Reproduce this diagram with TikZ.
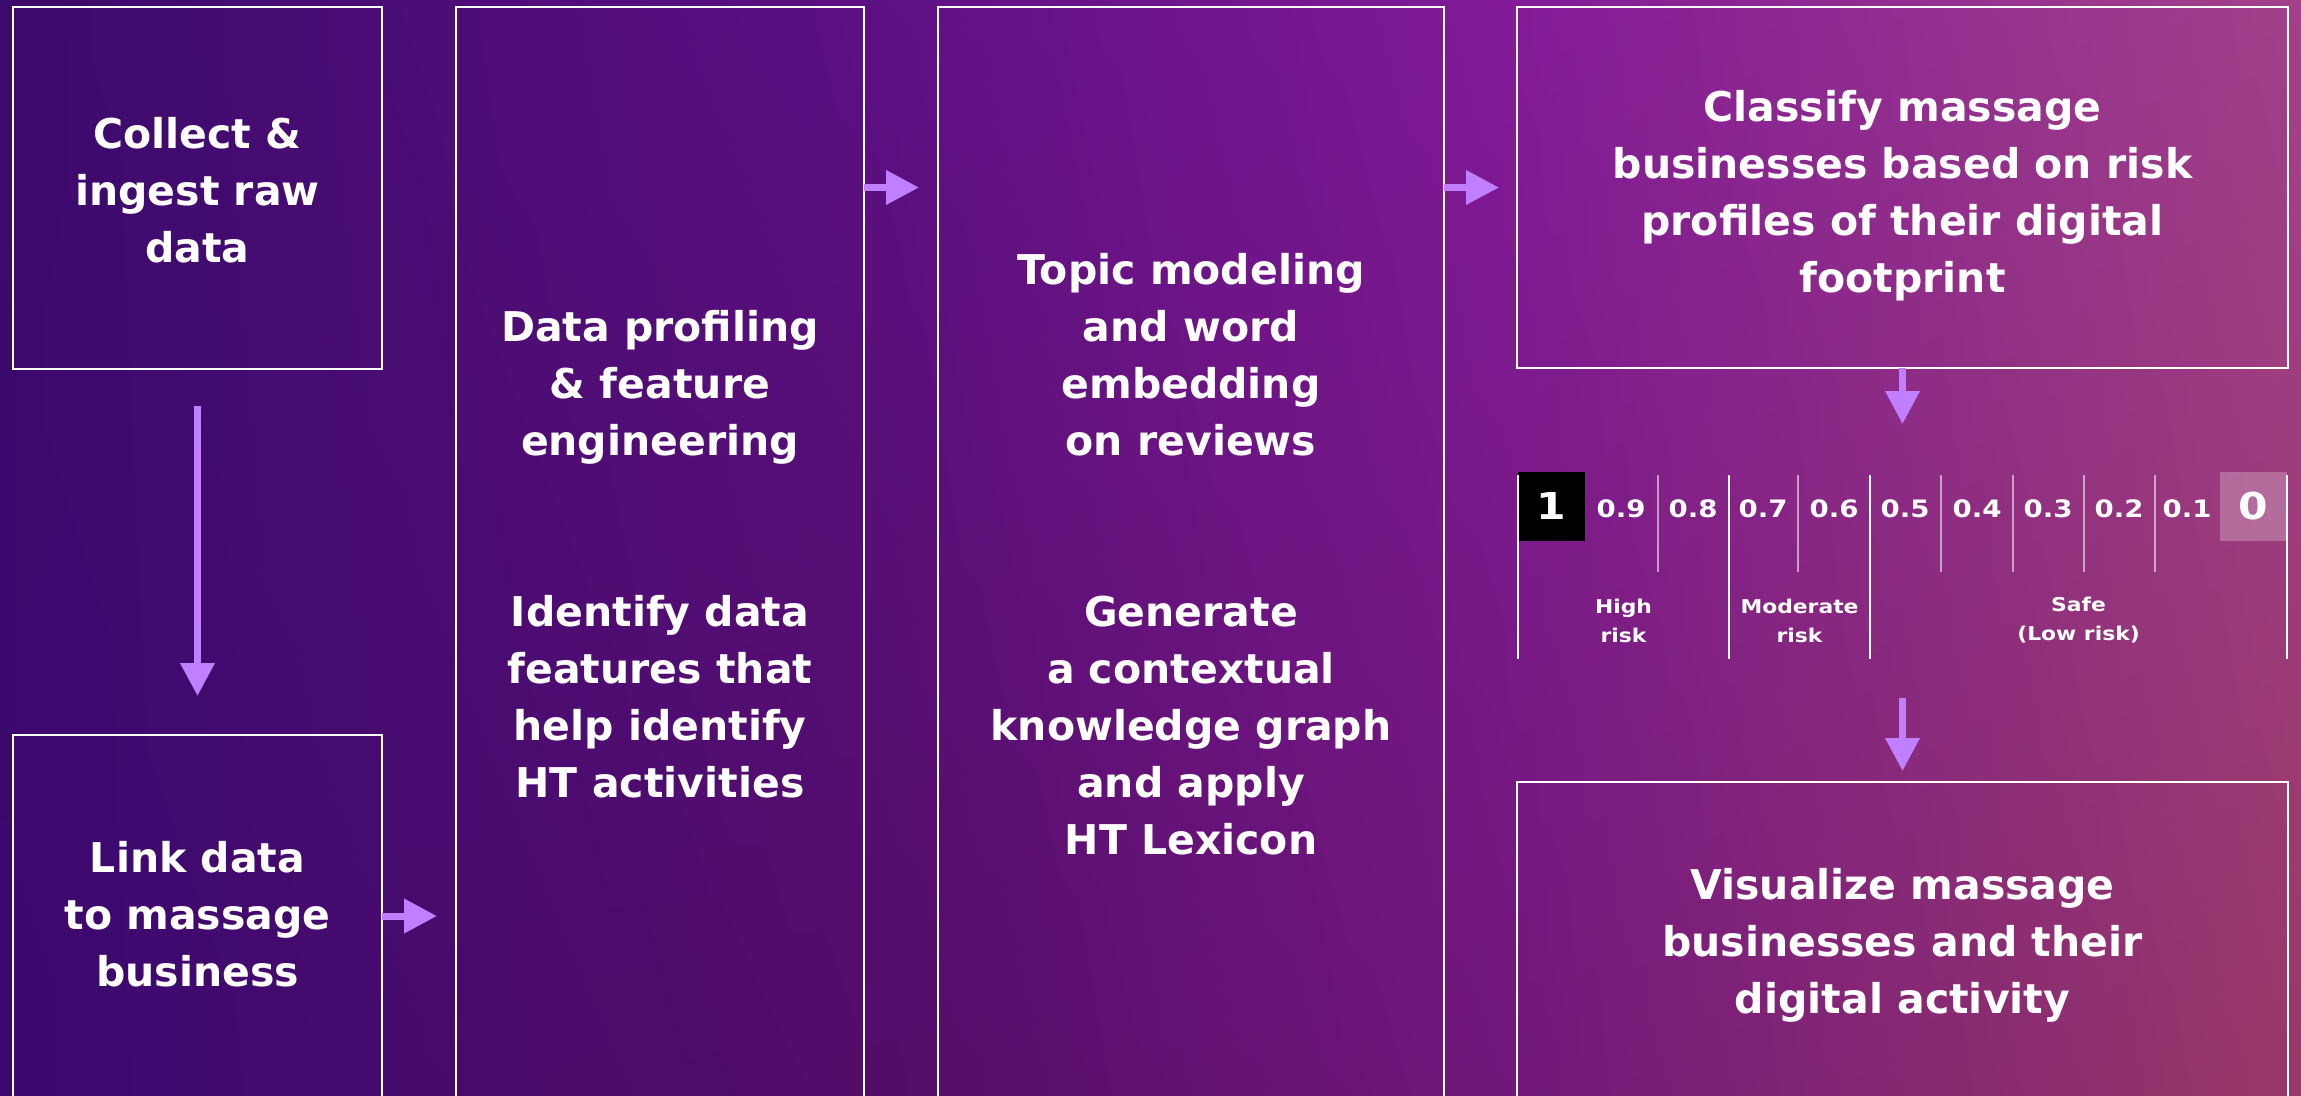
\documentclass[tikz,border=0pt]{standalone}
\usepackage{fontspec}
\setmainfont{DejaVu Sans}
\newfontfamily\scalefont{DejaVu Sans}[FakeStretch=1.15]
\usetikzlibrary{arrows.meta,shadings}
\definecolor{arrowc}{RGB}{191,127,255}
\definecolor{bgAt}{HTML}{3B0A6A}
\definecolor{bgAb}{HTML}{3B0870}
\definecolor{bgBt}{HTML}{5E1084}
\definecolor{bgBb}{HTML}{530D68}
\definecolor{bgCt}{HTML}{821A98}
\definecolor{bgCb}{HTML}{71177A}
\definecolor{bgDt}{HTML}{A2418A}
\definecolor{bgDb}{HTML}{983868}
\begin{document}
\begin{tikzpicture}[x=1pt,y=-1pt,
  box/.style={draw=white, line width=1.6pt, inner sep=0pt, outer sep=0pt},
  maintext/.style={text=white, align=center, inner sep=0pt,
    font=\bfseries\fontsize{41pt}{57pt}\selectfont},
  arr/.style={draw=arrowc, line width=7pt, -{Triangle[length=33pt,width=33pt]}},
  num/.style={text=white, anchor=base, inner sep=0pt,
    font=\scalefont\bfseries\fontsize{24pt}{24pt}\selectfont},
  bignum/.style={text=white, inner sep=0pt, minimum width=67pt, minimum height=69pt,
    font=\scalefont\bfseries\fontsize{37pt}{37pt}\selectfont},
  risklabel/.style={text=white, align=center, inner sep=0pt,
    font=\scalefont\bfseries\fontsize{19pt}{29pt}\selectfont},
  tallline/.style={draw=white, line width=1.5pt},
  shortline/.style={draw=white, draw opacity=0.55, line width=1.2pt}]
\useasboundingbox (0,0) rectangle (2301,1095);
\clip (0,0) rectangle (2301,1095);
% background
\shade[upper left=bgAt, lower left=bgAb, upper right=bgBt, lower right=bgBb] (0,0) rectangle (901,1095);
\shade[upper left=bgBt, lower left=bgBb, upper right=bgCt, lower right=bgCb] (900,0) rectangle (1501,1095);
\shade[upper left=bgCt, lower left=bgCb, upper right=bgDt, lower right=bgDb] (1500,0) rectangle (2301,1095);

% boxes
\node[box, minimum width=369pt, minimum height=362pt] (boxA) at (197.5,188) {};
\node[box, minimum width=369pt, minimum height=362pt] (boxB) at (197.5,916) {};
\node[box, minimum width=408pt, minimum height=1093pt] (boxC) at (660,553.5) {};
\node[box, minimum width=506pt, minimum height=1093pt] (boxD) at (1191,553.5) {};
\node[box, minimum width=771pt, minimum height=361pt] (boxE) at (1902.5,187.5) {};
\node[box, minimum width=771pt, minimum height=318pt] (boxF) at (1902.5,941) {};

% texts
\node[maintext] (tA) at (197.5,190) {Collect \&\\ingest raw\\data};
\node[maintext] (tB) at (197.5,914.5) {Link data\\to massage\\business};
\node[maintext] (tC) at (660,554) {Data profiling\\\& feature\\engineering\\[114pt]Identify data\\features that\\help identify\\HT activities};
\node[maintext] (tD) at (1191,554.5) {Topic modeling\\and word\\embedding\\on reviews\\[114pt]Generate\\a contextual\\knowledge graph\\and apply\\HT Lexicon};
\node[maintext] (tE) at (1902.5,195.4) {Classify massage\\businesses based on risk\\profiles of their digital\\footprint};
\node[maintext] (tF) at (1902.5,945.4) {Visualize massage\\businesses and their\\digital activity};

% risk scale
\coordinate (sctop) at (1902.5,472);
\coordinate (scbot) at (1902.5,659);
\node[bignum, fill=black] (v10) at (1551.5,506.5) {1};
\node[bignum, fill=white, fill opacity=0.25, text opacity=1] (v0) at (2253,506.5) {0};
\foreach \xx in {1518,1729,1870,2287}
  \draw[tallline] (\xx,475) -- (\xx,659);
\foreach \xx in {1658,1798,1941,2013,2084,2155}
  \draw[shortline] (\xx,475) -- (\xx,572);
\node[num] (v9) at (1621,517) {0.9};
\node[num] (v8) at (1693,517) {0.8};
\node[num] (v7) at (1763,517) {0.7};
\node[num] (v6) at (1834,517) {0.6};
\node[num] (v5) at (1905,517) {0.5};
\node[num] (v4) at (1977,517) {0.4};
\node[num] (v3) at (2048,517) {0.3};
\node[num] (v2) at (2119,517) {0.2};
\node[num] (v1) at (2187,517) {0.1};
\node[risklabel] (lhigh) at (1623.5,620.5) {High\\risk};
\node[risklabel] (lmod) at (1799.5,620.5) {Moderate\\risk};
\node[risklabel] (lsafe) at (2078.5,620.5) {Safe\\(Low risk)};

% arrows
\draw[arr, shorten <=37pt, shorten >=39pt] (boxA.south) -- (boxB.north);
\draw[arr, shorten >=19pt] (boxB.east) -- (boxB.east -| boxC.west);
\draw[arr, shorten >=19pt] (boxC.east |- boxE.west) -- (boxD.west |- boxE.west);
\draw[arr, shorten >=18pt] (boxD.east |- boxE.west) -- (boxE.west);
\draw[arr, shorten >=48pt] (boxE.south) -- (sctop);
\draw[arr, shorten <=39pt, shorten >=11pt] (scbot) -- (boxF.north);
\end{tikzpicture}
\end{document}
